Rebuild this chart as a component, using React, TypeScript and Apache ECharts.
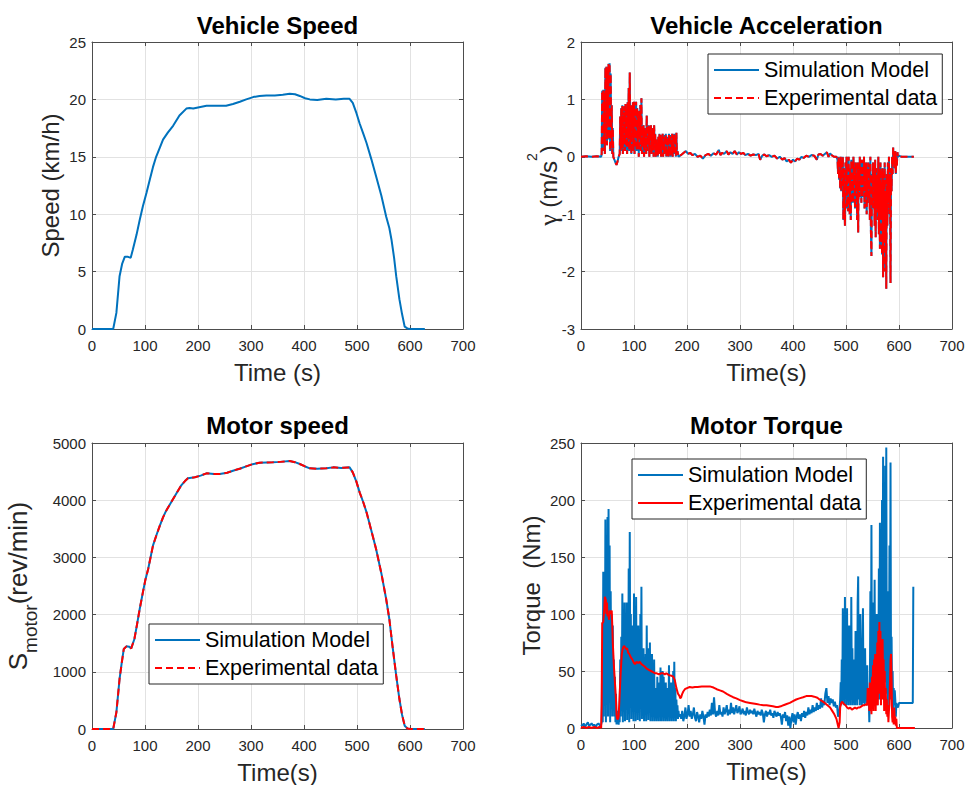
import { useEffect, useRef } from "react";
import * as echarts from "echarts";

// ---------------- DATA ----------------
const timeTicks = [0, 100, 200, 300, 400, 500, 600, 700];

// Vehicle speed [time s, km/h]
const vehicleSpeed: [number, number][] = [
  [0, 0], [20, 0], [40, 0], [46, 1.4], [52, 4.6], [57, 5.7], [62, 6.3], [67, 6.3], [73, 6.2], [77, 6.9],
  [84, 8.2], [90, 9.5], [96, 10.7], [103, 11.9], [109, 13.0], [115, 14.1], [121, 15.0], [128, 15.8],
  [134, 16.5], [143, 17.1], [153, 17.7], [165, 18.6], [178, 19.2], [184, 19.25], [191, 19.2], [200, 19.3],
  [216, 19.45], [235, 19.45], [253, 19.45], [266, 19.6], [279, 19.8], [291, 20.0], [304, 20.2], [316, 20.3],
  [329, 20.35], [345, 20.35], [360, 20.4], [373, 20.5], [383, 20.45], [392, 20.3], [402, 20.1], [411, 20.0],
  [425, 19.95], [442, 20.05], [460, 20.0], [475, 20.05], [486, 20.05], [492, 19.7], [499, 18.8], [505, 17.9],
  [512, 17.0], [518, 16.2], [527, 14.8], [536, 13.3], [546, 11.6], [555, 9.8], [561, 8.8], [565, 7.8],
  [570, 6.2], [574, 4.6], [580, 2.6], [585, 1.3], [590, 0.2], [595, 0.05], [600, 0], [615, 0], [628, 0],
];

// Motor speed [time s, rev/min] (simulation and experiment overlap)
const motorSpeedSim: [number, number][] = [
  [0, 0], [20, 0], [40, 0], [46, 291], [52, 874], [56, 1150], [60, 1399], [65, 1445], [70, 1440], [74, 1410],
  [80, 1573], [85, 1830], [90, 2098], [96, 2389], [101, 2620], [106, 2797], [115, 3205], [122, 3400],
  [128, 3555], [134, 3700], [140, 3817], [153, 4021], [160, 4130], [168, 4254], [175, 4330], [181, 4382],
  [194, 4400], [205, 4430], [216, 4470], [230, 4460], [241, 4458], [255, 4480], [266, 4516], [280, 4555],
  [291, 4592], [303, 4630], [316, 4656], [330, 4660], [341, 4662], [355, 4670], [373, 4685], [383, 4665],
  [392, 4633], [402, 4590], [411, 4557], [425, 4550], [442, 4557], [455, 4574], [470, 4565], [486, 4574],
  [492, 4487], [499, 4320], [505, 4137], [512, 3960], [518, 3788], [527, 3470], [536, 3147], [546, 2720],
  [555, 2273], [561, 1923], [567, 1450], [574, 932], [580, 524], [585, 250], [590, 58], [595, 10],
  [600, 0], [615, 0], [628, 0],
];
const motorSpeedExp = motorSpeedSim;

// Vehicle acceleration [time s, m/s^2] (simulation and experiment overlap)
const accelSim: [number, number][] = [
  [0, 0], [10, 0.01], [20, 0], [30, 0.01], [38, 0],
  [39, 0.05], [40, 1.15], [41, 0.1], [42, 1.17], [43, 0.3], [44, 1.1], [45, 0.05], [46, 1.55], [47, 0.4],
  [48, 1.57], [49, 0.2], [50, 1.5], [51, 0.6], [52, 1.62], [53, 0.3], [54, 1.63], [55, 0.1], [56, 1.45],
  [57, 0.2], [58, 0.9], [59, 0.05], [60, 0.5], [61, 0.0], [63, -0.05], [65, -0.1], [67, -0.14], [69, -0.08],
  [71, 0.0],
  [73, 0.05], [74, 0.7], [75, 0.1], [76, 0.85], [77, 0.2], [78, 0.9], [79, 0.05], [80, 0.75], [81, 0.3],
  [82, 0.88], [83, 0.1], [84, 0.92], [85, 0.2], [86, 0.8], [87, 0.05], [88, 0.95], [89, 0.3], [90, 1.2],
  [91, 0.1], [92, 1.47], [93, 0.2], [94, 0.9], [95, 0.05], [96, 0.85], [97, 0.35], [98, 0.95], [99, 0.1],
  [100, 0.96], [101, 0.05], [102, 0.8], [103, 0.3], [104, 0.96], [105, 0.1], [106, 0.85], [107, 0.2],
  [108, 0.7], [109, 0.0], [110, 0.8], [111, 0.3], [112, 0.9], [113, 0.1], [114, 1.02], [115, 0.05],
  [116, 0.55], [117, 0.2], [118, 0.55], [119, 0.0], [120, 0.5], [121, 0.25], [122, 0.45], [123, 0.05],
  [124, 0.72], [125, 0.1], [126, 0.5], [127, 0.2], [128, 0.55], [129, 0.0], [130, 0.5], [131, 0.3],
  [132, 0.55], [133, 0.05], [134, 0.45], [135, 0.15], [136, 0.5], [137, 0.0], [138, 0.55], [139, 0.2],
  [140, 0.4], [141, 0.0], [142, 0.3], [143, 0.1], [144, 0.25], [145, 0.0], [146, 0.35], [147, 0.05],
  [148, 0.4], [149, 0.1], [150, 0.38], [151, 0.0], [152, 0.35], [153, 0.15], [154, 0.4], [155, 0.0],
  [156, 0.3], [157, 0.05], [158, 0.38], [159, 0.1], [160, 0.4], [161, 0.0], [162, 0.35], [163, 0.2],
  [164, 0.3], [165, 0.0], [166, 0.4], [167, 0.1], [168, 0.38], [169, 0.0], [170, 0.3], [171, 0.15],
  [172, 0.4], [173, 0.0], [174, 0.35], [175, 0.05], [176, 0.4], [177, 0.1], [178, 0.3], [179, 0.0],
  [180, 0.42], [181, 0.05], [182, 0.1], [184, 0.0], [187, 0.02],
  [190, 0.04], [195, 0.08], [198, 0.1], [202, 0.05], [206, 0.07], [210, 0.03], [215, 0.05], [220, 0.0],
  [225, 0.02], [230, -0.03], [235, 0.03], [240, 0.05], [245, 0.02], [250, 0.06], [255, 0.04], [260, 0.12],
  [263, 0.03], [266, 0.07], [270, 0.05], [275, 0.1], [278, 0.04], [282, 0.08], [286, 0.05], [290, 0.1],
  [294, 0.04], [298, 0.08], [302, 0.05], [306, 0.07], [310, 0.03], [315, 0.05], [320, 0.02], [325, 0.04],
  [330, 0.03], [335, 0.05], [338, -0.05], [342, 0.02], [346, 0.04], [350, 0.01], [355, 0.03], [360, 0.0],
  [365, 0.02], [370, -0.03], [375, 0.0], [380, -0.05], [384, -0.02], [388, -0.08], [392, -0.05],
  [396, -0.1], [400, -0.05], [404, -0.08], [408, -0.03], [412, -0.05], [416, 0.0], [420, -0.02],
  [425, 0.02], [430, 0.0], [435, 0.03], [440, 0.02], [445, -0.05], [448, 0.04], [452, 0.05], [456, 0.02],
  [460, 0.05], [464, 0.08], [467, 0.0], [470, 0.06], [474, 0.02], [478, 0.0], [482, 0.0],
  [484, -0.05], [485, -0.3], [486, 0.0], [487, -0.4], [488, -0.1], [489, -0.55], [490, 0.0], [491, -0.6],
  [492, -0.2], [493, -0.5], [494, 0.0], [495, -1.1], [496, -0.2], [497, -0.7], [498, -1.2], [499, -0.1],
  [500, -0.6], [501, 0.0], [502, -0.9], [503, -0.3], [504, -0.95], [505, 0.0], [506, -0.7], [507, -1.0],
  [508, -0.2], [509, -1.1], [510, -0.05], [511, -0.6], [512, -0.3], [513, -0.8], [514, 0.0], [515, -0.5],
  [516, -0.2], [517, -0.9], [518, -0.1], [519, -0.6], [520, -0.3], [521, -1.1], [522, -0.1], [523, -1.32],
  [524, -0.2], [525, -0.7], [526, 0.0], [527, -0.5], [528, -0.2], [529, -0.8], [530, -0.05], [531, -0.7],
  [532, -0.3], [533, -0.6], [534, 0.0], [535, -0.9], [536, -0.2], [537, -0.7], [538, -0.1], [539, -1.0],
  [540, -0.3], [541, -0.8], [542, -0.1], [543, -0.6], [544, -0.2], [545, -1.1], [546, 0.0], [547, -1.3],
  [548, -1.73], [549, -0.3], [550, -0.9], [551, -0.1], [552, -0.8], [553, -0.3], [554, -1.2], [555, -0.05],
  [556, -1.4], [557, -0.2], [558, -0.9], [559, -0.4], [560, -1.1], [561, 0.0], [562, -1.35], [563, -0.3],
  [564, -1.6], [565, -0.1], [566, -1.0], [567, -0.5], [568, -1.7], [569, -0.2], [570, -2.1], [571, -0.4],
  [572, -1.5], [573, -0.1], [574, -2.0], [575, -0.6], [576, -2.3], [577, -0.3], [578, -1.2], [579, -0.1],
  [580, -0.8], [581, 0.0], [582, -1.0], [583, -0.3], [584, -2.2], [585, -0.2], [586, -0.6], [587, 0.0],
  [588, -0.3], [589, 0.16], [590, -0.1], [591, 0.05], [592, -0.2], [593, 0.1], [594, -0.3], [595, 0.0],
  [596, -0.15], [597, 0.08], [598, 0.0], [600, 0.02], [605, 0.0], [615, 0.0], [628, 0.0],
];
const accelExp = accelSim;

// Motor torque, simulation model [time s, Nm]
const torqueSim: [number, number][] = [
  [0, 3], [3, 2], [5, 4], [8, 1], [10, 3], [13, 5], [15, 2], [18, 3], [20, 4], [23, 2], [25, 3], [28, 1],
  [30, 3], [33, 4], [36, 2], [38, 3],
  [39, 5], [40, 60], [41, 5], [42, 137], [43, 10], [44, 130], [45, 20], [46, 183], [47, 5], [48, 150],
  [49, 40], [50, 185], [51, 10], [52, 192], [53, 30], [54, 160], [55, 5], [56, 120], [57, 50], [58, 100],
  [59, 10], [60, 90], [61, 30], [62, 60], [63, 10], [64, 45], [65, 5], [66, 30], [67, 3], [68, 15], [69, 4],
  [70, 8], [71, 3], [72, 10],
  [73, 5], [74, 60], [75, 10], [76, 80], [77, 20], [78, 118], [79, 5], [80, 90], [81, 30], [82, 110],
  [83, 6], [84, 100], [85, 20], [86, 110], [87, 7], [88, 60], [89, 15], [90, 140], [91, 5], [92, 172],
  [93, 30], [94, 100], [95, 8], [96, 90], [97, 40], [98, 70], [99, 6], [100, 118], [101, 20], [102, 80],
  [103, 6], [104, 115], [105, 30], [106, 60], [107, 7], [108, 90], [109, 15], [110, 70], [111, 6],
  [112, 100], [113, 25], [114, 124], [115, 8], [116, 60], [117, 20], [118, 70], [119, 6], [120, 55],
  [121, 15], [122, 65], [123, 6], [124, 90], [125, 20], [126, 50], [127, 7], [128, 70], [129, 15],
  [130, 75], [131, 6], [132, 45], [133, 20], [134, 65], [135, 6], [136, 40], [137, 12], [138, 60],
  [139, 6], [140, 35], [141, 15], [142, 30], [143, 6], [144, 45], [145, 10], [146, 25], [147, 6],
  [148, 40], [149, 12], [150, 53], [151, 6], [152, 35], [153, 10], [154, 50], [155, 6], [156, 45],
  [157, 15], [158, 30], [159, 6], [160, 40], [161, 12], [162, 25], [163, 6], [164, 35], [165, 10],
  [166, 55], [167, 6], [168, 30], [169, 15], [170, 40], [171, 6], [172, 25], [173, 10], [174, 50],
  [175, 6], [176, 58], [177, 12], [178, 35], [179, 6], [180, 25], [181, 10], [182, 20], [183, 8],
  [184, 15], [185, 10],
  [187, 12], [189, 8], [191, 15], [193, 6], [195, 10], [197, 18], [199, 8], [201, 12], [203, 20],
  [205, 10], [207, 15], [209, 8], [211, 12], [213, 18], [215, 9], [217, 6], [219, 14], [221, 10],
  [223, 5], [225, 12], [227, 8], [229, 15], [231, 10], [233, 3], [235, 12], [237, 9], [239, 14],
  [241, 10], [243, 16], [245, 11], [247, 22], [249, 12], [251, 27], [253, 13], [255, 10], [257, 15],
  [259, 11], [261, 20], [263, 12], [265, 14], [267, 10], [269, 18], [271, 12], [273, 15], [275, 20],
  [277, 11], [279, 16], [281, 12], [283, 22], [285, 13], [287, 18], [289, 12], [291, 16], [293, 20],
  [295, 13], [297, 15], [299, 19], [301, 12], [303, 14], [305, 17], [307, 12], [309, 15], [311, 11],
  [313, 18], [315, 14], [317, 12], [319, 16], [321, 13], [323, 15], [325, 12], [327, 17], [329, 13],
  [331, 10], [333, 15], [335, 12], [337, 14], [339, 11], [341, 16], [343, 13], [345, 5], [347, 12],
  [349, 15], [351, 10], [353, 14], [355, 12], [357, 16], [359, 11], [361, 13], [363, 9], [365, 15],
  [367, 12], [369, 10], [371, 14], [373, 11], [375, 13], [377, 10], [379, 3], [381, 12], [383, 9],
  [385, 14], [387, 6], [389, 11], [391, 2], [393, 10], [395, 0], [397, 8], [399, 13], [401, 5],
  [403, 12], [405, 3], [407, 10], [409, 14], [411, 8], [413, 12], [415, 6], [417, 13], [419, 10],
  [421, 15], [423, 9], [425, 14], [427, 11], [429, 18], [431, 12], [433, 16], [435, 13], [437, 20],
  [439, 14], [441, 18], [443, 15], [445, 22], [447, 16], [449, 20], [451, 17], [453, 26], [455, 18],
  [457, 24], [459, 20], [461, 30], [463, 35], [465, 22], [467, 28], [469, 20], [471, 26], [473, 22],
  [475, 25], [477, 19], [479, 23], [481, 18], [483, 20], [485, 10], [487, 12], [489, 25],
  [490, 40], [491, 20], [492, 60], [493, 22], [494, 105], [495, 25], [496, 80], [497, 20], [498, 115],
  [499, 30], [500, 60], [501, 20], [502, 105], [503, 25], [504, 50], [505, 20], [506, 90], [507, 30],
  [508, 45], [509, 20], [510, 115], [511, 25], [512, 70], [513, 20], [514, 60], [515, 22], [516, 50],
  [517, 20], [518, 85], [519, 25], [520, 50], [521, 20], [522, 110], [523, 133], [524, 25], [525, 60],
  [526, 20], [527, 100], [528, 30], [529, 45], [530, 20], [531, 75], [532, 105], [533, 22], [534, 50],
  [535, 20], [536, 70], [537, 25], [538, 40], [539, 22], [540, 55], [541, 20], [542, 35], [543, 25],
  [544, 5], [545, 30], [546, 120], [547, 25], [548, 178], [549, 30], [550, 90], [551, 20], [552, 110],
  [553, 40], [554, 130], [555, 25], [556, 60], [557, 30], [558, 100], [559, 20], [560, 90], [561, 35],
  [562, 140], [563, 25], [564, 180], [565, 40], [566, 120], [567, 30], [568, 200], [569, 50], [570, 238],
  [571, 30], [572, 150], [573, 60], [574, 230], [575, 40], [576, 246], [577, 30], [578, 120], [579, 20],
  [580, 90], [581, 35], [582, 160], [583, 25], [584, 233], [585, 30], [586, 80], [587, 20], [588, 50],
  [589, 15], [590, 35], [591, 20], [592, 33], [593, 25], [594, 10], [595, 22], [596, 20], [598, 18],
  [600, 22], [610, 22], [620, 22], [626, 22], [627, 124], [628, 124],
];

// Motor torque, experimental data [time s, Nm]
const torqueExp: [number, number][] = [
  [0, 0], [5, 1], [10, 0], [15, 1], [20, 0], [25, 1], [30, 0], [35, 1], [38, 0], [39, 20], [40, 92],
  [42, 93], [44, 105], [45, 115], [47, 112], [48, 100], [49, 110], [50, 98], [51, 100], [53, 95],
  [54, 103], [56, 100], [58, 103], [59, 90], [60, 75], [62, 55], [64, 40], [66, 25], [67, 12], [68, 8],
  [70, 8], [71, 10], [72, 20], [73, 30], [75, 50], [77, 65], [79, 70], [81, 72], [83, 71], [85, 69],
  [87, 70], [89, 66], [91, 65], [94, 62], [97, 60], [100, 57], [102, 56], [105, 58], [108, 57],
  [111, 58], [114, 56], [117, 55], [120, 54], [124, 52], [128, 51], [132, 50], [136, 49], [140, 48],
  [143, 48], [147, 47], [151, 48], [155, 48], [158, 47], [161, 48], [164, 47], [167, 46], [170, 46],
  [174, 45], [177, 42], [180, 35], [183, 30], [186, 28], [187, 26], [189, 27], [191, 30], [193, 32],
  [196, 34], [200, 35], [205, 36], [210, 35.5], [215, 36], [220, 36], [228, 36.5], [236, 36.5],
  [243, 36.5], [250, 35.5], [256, 34], [262, 33], [268, 32], [275, 30], [281, 28.5], [287, 27],
  [293, 26], [300, 24.5], [306, 23.5], [312, 22.5], [319, 22], [325, 21.5], [331, 21], [337, 20.5],
  [344, 20], [350, 20], [356, 19.5], [362, 19], [368, 18.5], [372, 18.5], [377, 19], [382, 20],
  [388, 21], [394, 22], [400, 23.5], [406, 25], [412, 26], [419, 27], [425, 28], [430, 28], [435, 28],
  [440, 27.5], [446, 26.5], [450, 25], [455, 23.5], [460, 22], [465, 20], [470, 18], [474, 15],
  [478, 12], [482, 8], [484, 4], [486, 0], [487, 0], [488, 5], [489, 18], [491, 22], [493, 23],
  [496, 21], [499, 20], [502, 18], [505, 17], [508, 18], [511, 16], [514, 17], [517, 18], [520, 17],
  [523, 18], [526, 18], [529, 19], [532, 20], [535, 20], [538, 21], [540, 20], [541, 35], [542, 22],
  [543, 30], [544, 15], [545, 40], [546, 18], [547, 25], [548, 12], [549, 45], [550, 20], [551, 55],
  [552, 15], [553, 60], [554, 25], [555, 65], [556, 15], [557, 50], [558, 30], [559, 75], [560, 20],
  [561, 85], [562, 40], [563, 93], [564, 30], [565, 85], [566, 20], [567, 70], [568, 25], [569, 78],
  [570, 40], [571, 60], [572, 15], [573, 50], [574, 20], [575, 35], [576, 12], [577, 25], [578, 10],
  [579, 20], [580, 5], [581, 15], [582, 20], [583, 40], [584, 60], [585, 65], [586, 40], [587, 10],
  [588, 5], [589, 15], [590, 3], [591, 18], [592, 5], [593, 10], [594, 2], [595, 8], [596, 0],
  [600, 0], [610, 0], [620, 0], [630, 0],
];

const legendNames = ["Simulation Model", "Experimental data"];
const titles = ["Vehicle Speed", "Vehicle Acceleration", "Motor speed", "Motor Torque"];

// ---------------- STYLE ----------------
const FONT = '"Liberation Sans", Arial, Helvetica, sans-serif';
const SERIF = '"Liberation Serif", "DejaVu Serif", serif';
const AXIS_COLOR = "#4d4d4d";
const TEXT_COLOR = "#262626";
const GRID_COLOR = "#e2e2e2";
const BLUE = "#0072BD";
const RED = "#FF0000";

const grids = [
  { left: 92, top: 42, width: 371, height: 287 },
  { left: 581, top: 42, width: 371, height: 287 },
  { left: 92, top: 443, width: 371, height: 286 },
  { left: 581, top: 443, width: 371, height: 285 },
];

const yRanges = [
  { min: 0, max: 25, interval: 5 },
  { min: -3, max: 2, interval: 1 },
  { min: 0, max: 5000, interval: 1000 },
  { min: 0, max: 250, interval: 50 },
];

const plain = (v: number) => String(v);

function mainX(gridIndex: number, name: string) {
  return {
    type: "value", gridIndex, min: timeTicks[0], max: timeTicks[timeTicks.length - 1], interval: 100,
    position: "bottom",
    name, nameLocation: "middle", nameGap: 31, nameMoveOverlap: false,
    nameTextStyle: { fontFamily: FONT, fontSize: 24, color: TEXT_COLOR, lineHeight: 24 },
    axisLine: { show: true, onZero: false, lineStyle: { color: AXIS_COLOR, width: 1 } },
    axisTick: { show: true, inside: true, length: 4, lineStyle: { color: AXIS_COLOR } },
    axisLabel: {
      fontFamily: FONT, fontSize: 15, color: TEXT_COLOR, margin: 9,
      showMinLabel: true, showMaxLabel: true, formatter: plain,
    },
    splitLine: { show: true, lineStyle: { color: GRID_COLOR, width: 1 } },
  };
}
function mirrorX(gridIndex: number) {
  return {
    type: "value", gridIndex, min: 0, max: 700, interval: 100, position: "top",
    axisLine: { show: true, onZero: false, lineStyle: { color: AXIS_COLOR, width: 1 } },
    axisTick: { show: true, inside: true, length: 4, lineStyle: { color: AXIS_COLOR } },
    axisLabel: { show: false }, splitLine: { show: false },
  };
}
function mainY(gridIndex: number, name: string, nameGap: number, nameTextStyle: any) {
  return {
    type: "value", gridIndex, ...yRanges[gridIndex], position: "left",
    name, nameLocation: "middle", nameGap, nameMoveOverlap: false, nameRotate: 90,
    nameTextStyle,
    axisLine: { show: true, onZero: false, lineStyle: { color: AXIS_COLOR, width: 1 } },
    axisTick: { show: true, inside: true, length: 4, lineStyle: { color: AXIS_COLOR } },
    axisLabel: {
      fontFamily: FONT, fontSize: 15, color: TEXT_COLOR, margin: 6,
      showMinLabel: true, showMaxLabel: true, formatter: plain,
    },
    splitLine: { show: true, lineStyle: { color: GRID_COLOR, width: 1 } },
  };
}
function mirrorY(gridIndex: number) {
  return {
    type: "value", gridIndex, ...yRanges[gridIndex], position: "right",
    axisLine: { show: true, onZero: false, lineStyle: { color: AXIS_COLOR, width: 1 } },
    axisTick: { show: true, inside: true, length: 4, lineStyle: { color: AXIS_COLOR } },
    axisLabel: { show: false }, splitLine: { show: false },
  };
}

function line(name: string, data: [number, number][], gi: number, color: string, type: any = "solid") {
  return {
    type: "line", name, data, xAxisIndex: gi, yAxisIndex: gi,
    symbol: "none", showSymbol: false, silent: true, clip: true,
    lineStyle: { color, width: 2, type },
    itemStyle: { color },
  };
}

const legendBase = {
  orient: "vertical",
  itemWidth: 45, itemHeight: 14, itemGap: 6,
  padding: [5, 5, 5, 5],
  borderColor: "#262626", borderWidth: 1, backgroundColor: "#ffffff",
  selectedMode: false,
  itemStyle: { opacity: 0 },
  textStyle: { fontFamily: FONT, fontSize: 21.5, color: "#000", lineHeight: 22 },
};

const titleBase = {
  textAlign: "center", padding: 0,
  textStyle: { fontFamily: FONT, fontSize: 24, fontWeight: "bold", color: "#000" },
};

const option: any = {
  animation: false,
  backgroundColor: "#ffffff",
  title: [
    { ...titleBase, text: titles[0], left: 277.5, top: 13 },
    { ...titleBase, text: titles[1], left: 766.5, top: 13 },
    { ...titleBase, text: titles[2], left: 277.5, top: 413 },
    { ...titleBase, text: titles[3], left: 766.5, top: 413 },
  ],
  grid: grids.map((g) => ({ ...g, show: false, containLabel: false, outerBoundsMode: "none" })),
  xAxis: [
    mainX(0, "Time (s)"), mainX(1, "Time(s)"), mainX(2, "Time(s)"), mainX(3, "Time(s)"),
    mirrorX(0), mirrorX(1), mirrorX(2), mirrorX(3),
  ],
  yAxis: [
    mainY(0, "Speed (km/h)", 30, { fontFamily: FONT, fontSize: 24, color: TEXT_COLOR, lineHeight: 24 }),
    mainY(1, "{g|γ} (m/s{s|2})", 10, {
      fontFamily: FONT, fontSize: 24, color: TEXT_COLOR, lineHeight: 46,
      rich: {
        g: { fontFamily: SERIF, fontSize: 26, color: TEXT_COLOR, lineHeight: 46 },
        s: { fontFamily: FONT, fontSize: 14, color: TEXT_COLOR, lineHeight: 14, verticalAlign: "top" },
      },
    }),
    mainY(2, "{m|S}{s|motor}{m|(rev/min)}", 52, {
      fontFamily: FONT, fontSize: 26, color: TEXT_COLOR, lineHeight: 45,
      rich: {
        m: { fontFamily: FONT, fontSize: 26, color: TEXT_COLOR, lineHeight: 45 },
        s: { fontFamily: FONT, fontSize: 19, color: TEXT_COLOR, lineHeight: 19, verticalAlign: "bottom" },
      },
    }),
    mainY(3, "Torque  (Nm)", 38, { fontFamily: FONT, fontSize: 24, color: TEXT_COLOR, lineHeight: 24 }),
    mirrorY(0), mirrorY(1), mirrorY(2), mirrorY(3),
  ],
  legend: [
    { ...legendBase, left: 708, top: 54, data: legendNames },
    { ...legendBase, left: 149, top: 624, data: legendNames },
    {
      ...legendBase, left: 632, top: 459,
      data: [
        legendNames[0],
        { name: legendNames[1], lineStyle: { type: "solid", width: 2, color: RED } },
      ],
    },
  ],
  series: [
    line(legendNames[0], accelSim, 1, BLUE),
    line(legendNames[1], accelExp, 1, RED, [7, 4]),
    line(legendNames[0], motorSpeedSim, 2, BLUE),
    line(legendNames[1], motorSpeedExp, 2, RED, [7, 4]),
    line(legendNames[0], torqueSim, 3, BLUE),
    line(legendNames[1], torqueExp, 3, RED),
    line("Vehicle speed", vehicleSpeed, 0, BLUE),
  ],
};

export default function App() {
  const ref = useRef<HTMLDivElement>(null);
  useEffect(() => {
    document.body.style.margin = "0";
    const chart = echarts.init(ref.current!, null, { renderer: "svg" });
    chart.setOption(option);
    return () => chart.dispose();
  }, []);
  return <div ref={ref} style={{ width: 966, height: 785, background: "#fff" }} />;
}
